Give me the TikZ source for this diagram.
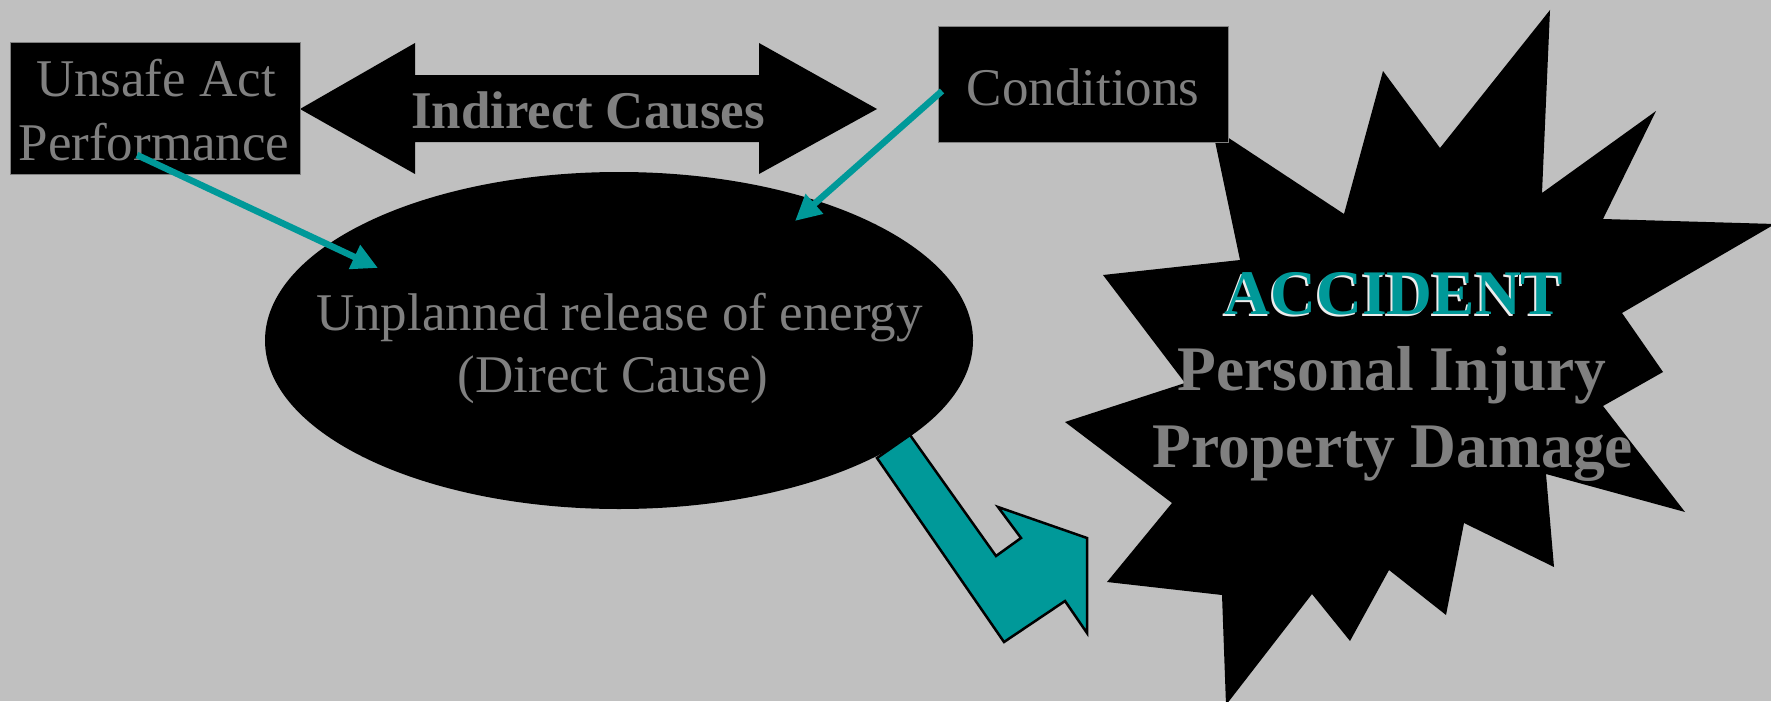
\documentclass[tikz,border=0pt]{standalone}
\usepackage{fontspec}
\setmainfont{Liberation Serif}
\usetikzlibrary{arrows.meta,shapes.geometric}
\definecolor{bg}{HTML}{C0C0C0}
\definecolor{tealc}{HTML}{009999}
\definecolor{txtgray}{HTML}{808080}
\begin{document}
\begin{tikzpicture}[x=1pt,y=-1pt,
  txt/.style={text=txtgray,inner sep=0,anchor=base,font=\fontsize{53}{64}\selectfont},
  btxt/.style={text=txtgray,inner sep=0,anchor=base,font=\fontsize{53}{64}\selectfont\bfseries},
  bigtxt/.style={inner sep=0,anchor=base,font=\fontsize{63.5}{76}\selectfont\bfseries},
  blackbox/.style={fill=black,draw=gray,line width=1pt,inner sep=0},
  tealarrow/.style={draw=tealc,line width=6.5pt,-{Triangle[length=26pt,width=25pt]}}]
\useasboundingbox (0,0) rectangle (1771,701);
\fill[bg] (0,0) rectangle (1771,701);
\clip (0,0) rectangle (1771,701);
% starburst
\fill[black] (1550,10) -- (1542,193) -- (1656,111) -- (1603,219) -- (1775,224)
  -- (1622,313) -- (1663,372) -- (1603,406) -- (1685,512) -- (1546,474)
  -- (1554,567) -- (1464,523) -- (1446,615) -- (1389,570) -- (1350,641)
  -- (1312,594) -- (1226,705) -- (1222,595) -- (1107,582) -- (1172,503)
  -- (1065,422) -- (1185,383) -- (1103,275) -- (1240,260) -- (1212,127)
  -- (1344,214) -- (1383,71) -- (1440,148) -- cycle;
% ellipse
\node[ellipse,fill=black,minimum width=708pt,minimum height=337pt,inner sep=0] (release) at (619,340.5) {};
% bent arrow
\filldraw[fill=tealc,draw=black,line width=2.5pt,line join=miter]
  (877,458) -- (910,435) -- (996,556) -- (1021,538) -- (998,507) -- (1087,538)
  -- (1087,633) -- (1065,601) -- (1004,642) -- cycle;
% double arrow
\fill[black] (300,109) -- (415,43) -- (415,75) -- (759,75) -- (759,43) -- (877,109)
  -- (759,174) -- (759,142) -- (415,142) -- (415,174) -- cycle;
% boxes
\node[blackbox,minimum width=290pt,minimum height=131pt] (unsafe) at (155,108.5) {};
\node[blackbox,minimum width=290pt,minimum height=115pt] (cond) at (1083,84.5) {};
% texts
\node[txt] (t1) at (156,96) {Unsafe Act};
\node[txt] (t2) at (154,160) {Performance};
\node[btxt] (t3) at (588,128) {Indirect Causes};
\node[txt] (t4) at (1083,105) {Conditions};
\node[txt] (t5) at (619.5,330) {Unplanned release of energy};
\node[txt] (t6) at (613,392) {(Direct Cause)};
\node[bigtxt,text=white!85!gray] (accs) at (1392,316.5) {ACCIDENT};
\node[bigtxt,text=tealc] (acc) at (1394,314) {ACCIDENT};
\node[bigtxt,text=txtgray] (t7) at (1392,390) {Personal Injury};
\node[bigtxt,text=txtgray] (t8) at (1393,467) {Property Damage};
% teal arrows
\coordinate (ua) at (137,155);
\coordinate (ea) at (378,268);
\coordinate (ca) at (942,91);
\coordinate (eb) at (795,221);
\draw[tealarrow] (ua) -- (ea);
\draw[tealarrow] (ca) -- (eb);
\end{tikzpicture}
\end{document}
